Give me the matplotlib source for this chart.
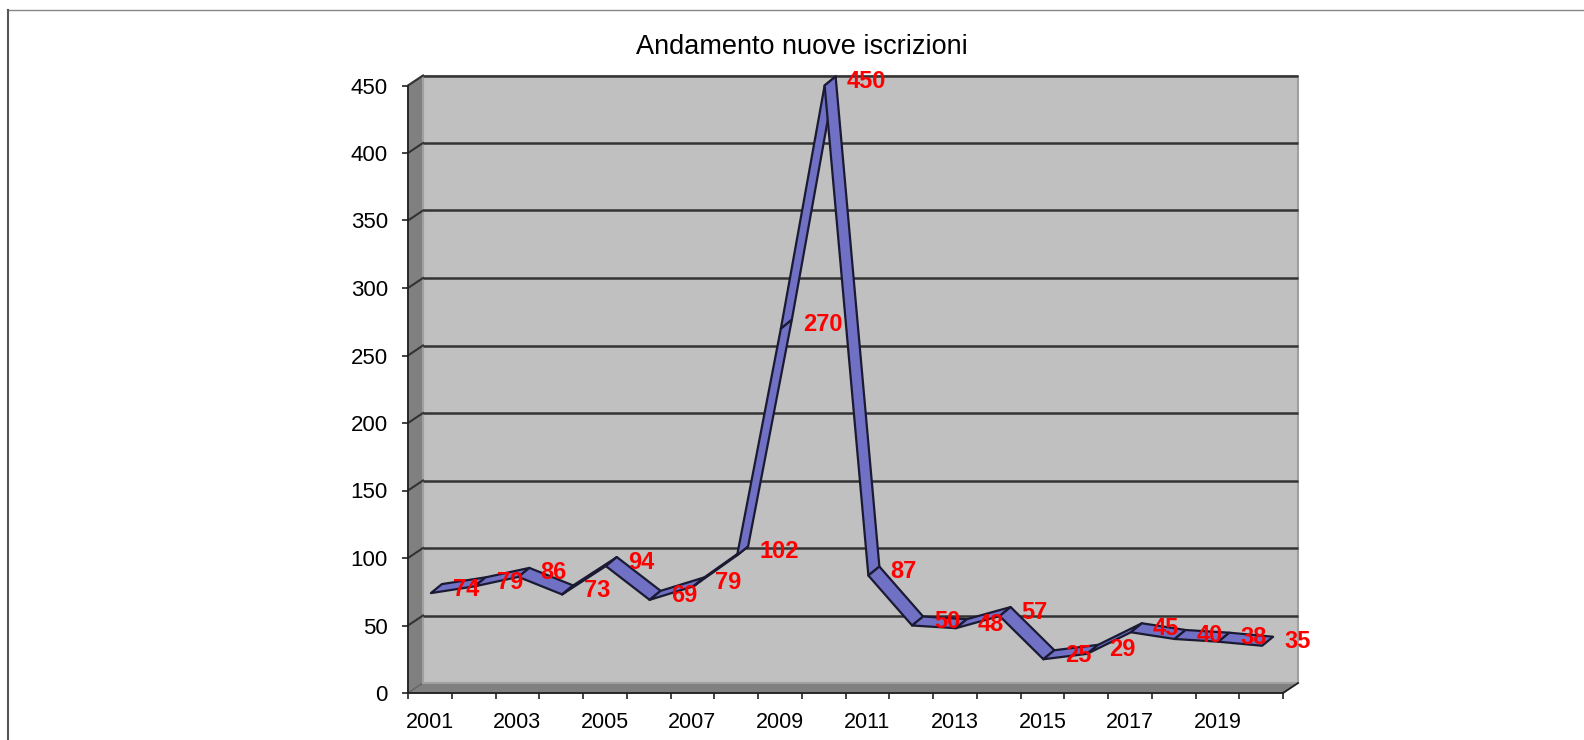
import matplotlib
matplotlib.use("Agg")
import matplotlib.pyplot as plt
import matplotlib.transforms as mtransforms
from matplotlib.patches import Polygon

plt.rcParams['font.family'] = ['Liberation Sans', 'DejaVu Sans']

# data
years = list(range(2001, 2021))
values = [74, 79, 86, 73, 94, 69, 79, 102, 270, 450,
          87, 50, 48, 57, 25, 29, 45, 40, 38, 35]
tick_labels = [str(y) for y in years[::2]]
title = "Andamento nuove iscrizioni"

W, H = 1584, 740
fig = plt.figure(figsize=(W / 100, H / 100), dpi=100)
# front plane of the 3D box
ax = fig.add_axes([408 / W, (H - 693) / H, 875 / W, 607.5 / H])
n = len(values)
ax.set_xlim(0, n)
ax.set_ylim(0, 450)
ax.patch.set_visible(False)
for s in ax.spines.values():
    s.set_visible(False)


def shifted(dx, dy):
    return ax.transData + mtransforms.ScaledTranslation(dx / 100, dy / 100, fig.dpi_scale_trans)


DX, DY = 15, 10
back = shifted(DX, DY)
inv = ax.transData.inverted()


def to_data(pts):
    return [inv.transform(p) for p in pts]


# side wall and floor
side_pts = [ax.transData.transform((0, 0)), ax.transData.transform((0, 450)),
            back.transform((0, 450)), back.transform((0, 0))]
ax.add_patch(Polygon(to_data(side_pts), closed=True, facecolor='#808080',
                     edgecolor='#666666', lw=1, zorder=1, clip_on=False))
floor_pts = [ax.transData.transform((0, 0)), ax.transData.transform((n, 0)),
             back.transform((n, 0)), back.transform((0, 0))]
ax.add_patch(Polygon(to_data(floor_pts), closed=True, facecolor='#808080',
                     edgecolor='#666666', lw=1, zorder=1, clip_on=False))
# back wall
ax.add_patch(Polygon([(0, 0), (n, 0), (n, 450), (0, 450)], closed=True,
                     facecolor='#c0c0c0', edgecolor='#a0a0a0', lw=1.5,
                     transform=back, zorder=1, clip_on=False))

# gridlines on back wall and side wall
for v in range(50, 451, 50):
    ax.plot([0, n], [v, v], color='#333333', lw=1.8, transform=back, zorder=2,
            clip_on=False, solid_capstyle='butt')
    p1, p2 = to_data([ax.transData.transform((0, v)), back.transform((0, v))])
    ax.plot([p1[0], p2[0]], [p1[1], p2[1]], color='#333333', lw=1.5, zorder=2,
            clip_on=False)

# front axis lines
ax.plot([0, 0], [0, 450], color='#222222', lw=1.3, clip_on=False, zorder=3)
ax.plot([0, n], [0, 0], color='#222222', lw=1.3, clip_on=False, zorder=3)
r1, r2 = to_data([ax.transData.transform((n, 0)), back.transform((n, 0))])
ax.plot([r1[0], r2[0]], [r1[1], r2[1]], color='#222222', lw=1.3, clip_on=False, zorder=3)

ax.set_yticks(range(0, 451, 50))
ax.set_xticks(range(0, n + 1))
ax.set_xticklabels([])
ax.tick_params(axis='both', length=4.5, width=1.2, color='#222222', labelsize=16,
               direction='out')
ax.tick_params(axis='y', pad=10)
lab_x = shifted(0, -19)
for i, lab in enumerate(tick_labels):
    ax.text(2 * i + 0.5, 0, lab, ha='center', va='top', fontsize=15.5,
            transform=lab_x)

# ribbon line
xs = [i + 0.5 for i in range(n)]
ta = shifted(1, 0)
tb = shifted(12, 9)
for i in range(n - 1):
    pts = [ta.transform((xs[i], values[i])), ta.transform((xs[i + 1], values[i + 1])),
           tb.transform((xs[i + 1], values[i + 1])), tb.transform((xs[i], values[i]))]
    ax.add_patch(Polygon(to_data(pts), closed=True, facecolor='#7070c4',
                         edgecolor='#1a1a33', lw=1.6, joinstyle='round',
                         zorder=4, clip_on=False))

# data labels
lab_t = shifted(23, 4)
for x, v in zip(xs, values):
    ax.text(x, v, str(v), transform=lab_t, color='#ff0000', fontsize=17,
            fontweight='bold', ha='left', va='center', zorder=5)

fig.text(802 / W, 1 - 47 / H, title, ha='center', va='center', fontsize=19.5)

# outer frame lines
fig.add_artist(plt.Line2D([8 / W, 1], [1 - 10 / H, 1 - 10 / H], color='#888888', lw=1))
fig.add_artist(plt.Line2D([8 / W, 8 / W], [0, 1 - 10 / H], color='#555555', lw=1.5))

fig.savefig("out.png", dpi=100)
